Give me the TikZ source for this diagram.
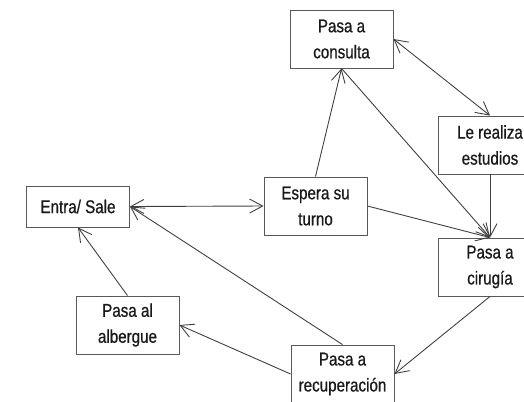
\documentclass[tikz,border=0pt]{standalone}
\usepackage{fontspec}
\setmainfont[FakeStretch=0.82,FakeBold=0.7]{Liberation Sans}
\usetikzlibrary{arrows.meta}

\tikzset{
  caja/.style={draw=black!65, line width=0.9bp, minimum width=103bp,
    minimum height=58bp, align=center, inner sep=0pt,
    font=\fontsize{18.5bp}{26bp}\selectfont, text=black!90},
  flecha/.style={draw=black!75, line width=0.9bp},
  >={Straight Barb[length=13bp,width=14bp]}
}

\begin{document}
\begin{tikzpicture}[x=1bp,y=-1bp]

  \useasboundingbox (0,0) rectangle (524,401);
  \clip (0,0) rectangle (524,401);

  \node[caja] (consulta) at (341.5,39) {Pasa a\\consulta};
  \node[caja] (estudios) at (490,145) {Le realiza\\estudios};
  \node[caja] (espera) at (315.5,206) {Espera su\\turno};
  \node[caja,minimum height=41bp] (entra) at (78,206.5) {Entra/ Sale};
  \node[caja] (cirugia) at (490,267) {Pasa a\\cirugía};
  \node[caja] (albergue) at (127.5,325) {Pasa al\\albergue};
  \node[caja] (recuperacion) at (342.5,374) {Pasa a\\recuperación};

  \draw[flecha,<->] (entra.east) -- (espera.west);
  \draw[flecha,->] (espera.north) -- (consulta.south);
  \draw[flecha,<->] (consulta.east) -- (estudios.north);
  \draw[flecha,->] (consulta.south) -- (cirugia.north);
  \draw[flecha,->] (estudios.south) -- (cirugia.north);
  \draw[flecha,->] (espera.east) -- (cirugia.north);
  \draw[flecha,->] (cirugia.south) -- (recuperacion.east);
  \draw[flecha,->] (recuperacion.west) -- (albergue.east);
  \draw[flecha,->] (albergue.north) -- (entra.south);
  \draw[flecha,->] (recuperacion.north) -- (entra.east);

\end{tikzpicture}
\end{document}
